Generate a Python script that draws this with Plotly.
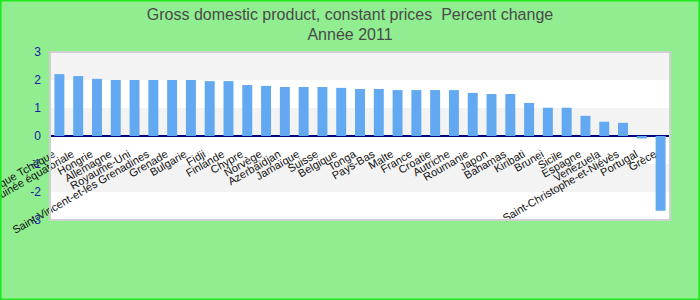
import plotly.graph_objects as go

countries = ["République Tchèque", "Guinée équatoriale", "Hongrie", "Allemagne", "Royaume-Uni",
             "Saint-Vincent-et-les Grenadines", "Grenade", "Bulgarie", "Fidji", "Finlande",
             "Chypre", "Norvège", "Azerbaïdjan", "Jamaïque", "Suisse", "Belgique", "Tonga",
             "Pays-Bas", "Malte", "France", "Croatie", "Autriche", "Roumanie", "Japon",
             "Bahamas", "Kiribati", "Brunei", "Sicile", "Espagne", "Venezuela",
             "Saint-Christophe-et-Niévès", "Portugal", "Grèce"]
values = [2.21, 2.14, 2.04, 2.0, 2.0,
          2.0, 2.0, 2.0, 1.96, 1.96,
          1.82, 1.79, 1.75, 1.75, 1.75, 1.72, 1.68,
          1.68, 1.64, 1.64, 1.64, 1.64, 1.54, 1.50,
          1.50, 1.18, 1.01, 1.01, 0.72, 0.51,
          0.47, -0.09, -2.67]
y_ticks = [-3, -2, -1, 0, 1, 2, 3]
y_tick_text = ["-3", "-2", "-1", "0", "1", "2", "3"]
bands = [(2, 3), (0, 1), (-2, -1)]

font = "Liberation Sans, Arial, sans-serif"

fig = go.Figure(go.Bar(x=countries, y=values, marker_color="#63a9f2", width=0.53,
                       marker_line_width=0))

shapes = []
for b0, b1 in bands:
    shapes.append(dict(type="rect", xref="paper", yref="y", x0=0, x1=1, y0=b0, y1=b1,
                       fillcolor="#f3f3f3", line_width=0, layer="below"))
shapes.append(dict(type="rect", xref="paper", yref="paper", x0=0, x1=1, y0=0, y1=1,
                   line=dict(color="#d0d0d0", width=2), fillcolor="rgba(0,0,0,0)", layer="above"))
# outer figure border
shapes.append(dict(type="rect", xref="paper", yref="paper",
                   x0=-50 / 620 + 0.001, x1=1 + 30 / 620 - 0.001,
                   y0=-80 / 168 + 0.003, y1=1 + 52 / 168 - 0.003,
                   line=dict(color="#1ee81e", width=2), fillcolor="rgba(0,0,0,0)", layer="above"))

fig.update_layout(
    template="none",
    width=700, height=300,
    margin=dict(l=50, r=30, t=52, b=80),
    paper_bgcolor="#90ee90",
    plot_bgcolor="#ffffff",
    showlegend=False,
    title=dict(text="Gross domestic product, constant prices  Percent change<br>Année 2011",
               x=0.5, xref="container", xanchor="center", y=0.935, yanchor="middle",
               font=dict(family=font, size=16, color="#4a4a4a")),
    font=dict(family=font),
    shapes=shapes,
    xaxis=dict(type="category", anchor="free", position=0.5, tickangle=-30,
               showgrid=False, showline=False, zeroline=False, ticks="",
               ticklabelstandoff=9, ticklabelshift=-6,
               tickfont=dict(size=11, color="#111111", family=font), automargin=False),
    yaxis=dict(range=[-3, 3], tickvals=y_ticks, ticktext=y_tick_text, showgrid=False,
               zeroline=True, zerolinecolor="#000080", zerolinewidth=2,
               tickfont=dict(size=12, color="#1a1aa0", family=font),
               ticks="", ticklabelstandoff=8, automargin=False),
)

fig.write_html("out.html")
